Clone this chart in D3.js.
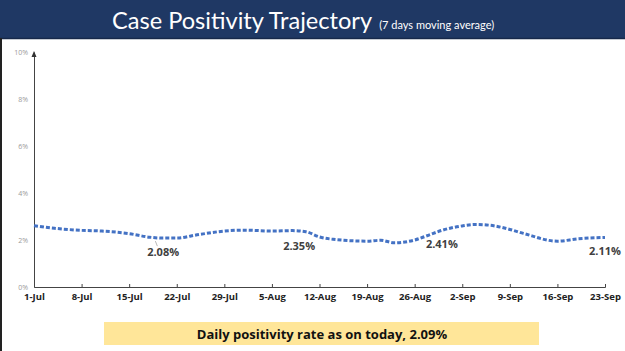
<html>
  <head>
    <title>Case Positivity Trajectory</title>
    <meta charset="utf-8" />
    <script src="https://cdnjs.cloudflare.com/ajax/libs/d3/7.6.1/d3.min.js"></script>
    <style>
      body { margin: 0; background: #fff; }
      svg { display: block; }
      .axis text { font-family: "Open Sans", sans-serif; }
      .axis--y text { fill: #9a9a9a; font-size: 7px; }
      .axis--x text { fill: #222; font-size: 9.5px; font-weight: bold; }
    </style>
  </head>
  <body>
    <svg width="625" height="351"></svg>
  </body>

  <script>
    // 7 day moving average
    let dates = ["1-Jul", "4-Jul", "8-Jul", "11-Jul", "15-Jul", "18-Jul", "20-Jul", "22-Jul",
      "25-Jul", "29-Jul", "1-Aug", "5-Aug", "8-Aug", "10-Aug", "12-Aug", "14-Aug",
      "19-Aug", "21-Aug", "23-Aug", "26-Aug", "28-Aug", "30-Aug", "2-Sep", "4-Sep",
      "6-Sep", "9-Sep", "11-Sep", "16-Sep", "19-Sep", "23-Sep"];
    let positivity = [2.61, 2.5, 2.41, 2.38, 2.27, 2.12, 2.08, 2.08,
      2.22, 2.38, 2.42, 2.38, 2.4, 2.35, 2.13, 2.03,
      1.95, 1.99, 1.88, 2.0, 2.2, 2.41, 2.6, 2.66,
      2.63, 2.45, 2.28, 1.95, 2.05, 2.11];
    let tickDates = ["1-Jul", "8-Jul", "15-Jul", "22-Jul", "29-Jul", "5-Aug", "12-Aug",
      "19-Aug", "26-Aug", "2-Sep", "9-Sep", "16-Sep", "23-Sep"];
    let yTicks = [0, 2, 4, 6, 8, 10];
    let callouts = [
      { date: "20-Jul", value: 2.08 },
      { date: "9-Aug", value: 2.35 },
      { date: "30-Aug", value: 2.41 },
      { date: "23-Sep", value: 2.11 }
    ];
    let todayRate = "2.09%";

    let parse = d3.timeParse("%d-%b-%Y");
    let toDate = (s) => parse(s + "-2020");
    let data = dates.map((d, i) => ({ date: toDate(d), value: positivity[i] }));

    let svg = d3.select("svg");
    let margin = { left: 34, right: 20, top: 52, bottom: 64 };
    let W = 625, H = 351;

    // header band
    svg.append("rect").attr("x", 0).attr("y", 0).attr("width", W).attr("height", 38).attr("fill", "#1f3864");
    svg.append("line").attr("x1", 0).attr("x2", W).attr("y1", 38.5).attr("y2", 38.5)
      .attr("stroke", "#16284a").attr("stroke-width", 1.5);
    svg.append("line").attr("x1", 1).attr("x2", 1).attr("y1", 38).attr("y2", H)
      .attr("stroke", "#222").attr("stroke-width", 2);

    let title = svg.append("text").attr("x", 112).attr("y", 29)
      .attr("fill", "#fff").style("font-family", "Lato, sans-serif");
    title.append("tspan").attr("font-size", 23.6).text("Case Positivity Trajectory");
    title.append("tspan").attr("font-size", 11).attr("dx", 7).text("(7 days moving average)");

    let x = d3.scaleTime()
      .domain([toDate("1-Jul"), toDate("23-Sep")])
      .range([margin.left, W - margin.right]);
    let y = d3.scaleLinear().domain([0, 10]).range([H - margin.bottom, margin.top]);

    svg.append("g")
      .attr("class", "axis axis--y")
      .attr("transform", `translate(${margin.left},0)`)
      .call(d3.axisLeft(y).tickValues(yTicks).tickSize(0).tickPadding(6).tickFormat((d) => d + "%"))
      .call((g) => g.select(".domain").attr("stroke", "#444"));

    // arrow head on y axis
    svg.append("path")
      .attr("d", `M${margin.left - 2.5},${margin.top + 5}L${margin.left},${margin.top - 1}L${margin.left + 2.5},${margin.top + 5}Z`)
      .attr("fill", "#333");

    svg.append("g")
      .attr("class", "axis axis--x")
      .attr("transform", `translate(0,${H - margin.bottom})`)
      .call(d3.axisBottom(x).tickValues(tickDates.map(toDate)).tickSize(-3).tickPadding(6)
        .tickFormat(d3.timeFormat("%-d-%b")))
      .call((g) => g.select(".domain").attr("stroke", "#444"))
      .call((g) => g.selectAll(".tick line").attr("stroke", "#444"));

    let line = d3.line()
      .x((d) => x(d.date))
      .y((d) => y(d.value))
      .curve(d3.curveMonotoneX);

    svg.append("path")
      .datum(data)
      .attr("fill", "none")
      .attr("stroke", "#4472c4")
      .attr("stroke-width", 3)
      .attr("stroke-dasharray", "4,2")
      .attr("d", line);

    // small leader for the first callout
    svg.append("line")
      .attr("x1", x(toDate("19-Jul")) - 1).attr("x2", x(toDate("19-Jul")) + 1)
      .attr("y1", y(2.08) + 3).attr("y2", y(2.08) + 8)
      .attr("stroke", "#888").attr("stroke-width", 0.6);

    svg.selectAll(".callout")
      .data(callouts)
      .enter()
      .append("text")
      .attr("class", "callout")
      .attr("x", (d) => x(toDate(d.date)))
      .attr("y", (d) => y(d.value) + 18)
      .attr("text-anchor", "middle")
      .attr("fill", "#404040")
      .style("font-family", "Open Sans, sans-serif")
      .style("font-weight", "bold")
      .style("font-size", "11px")
      .text((d) => d.value.toFixed(2) + "%");

    // bottom box
    svg.append("rect").attr("x", 104).attr("y", 322).attr("width", 435).attr("height", 23).attr("fill", "#ffe699");
    svg.append("text").attr("x", 322).attr("y", 338.5).attr("text-anchor", "middle")
      .attr("fill", "#111")
      .style("font-family", "Open Sans, sans-serif")
      .style("font-weight", "bold")
      .style("font-size", "13px")
      .text("Daily positivity rate as on today, " + todayRate);
  </script>
</html>
